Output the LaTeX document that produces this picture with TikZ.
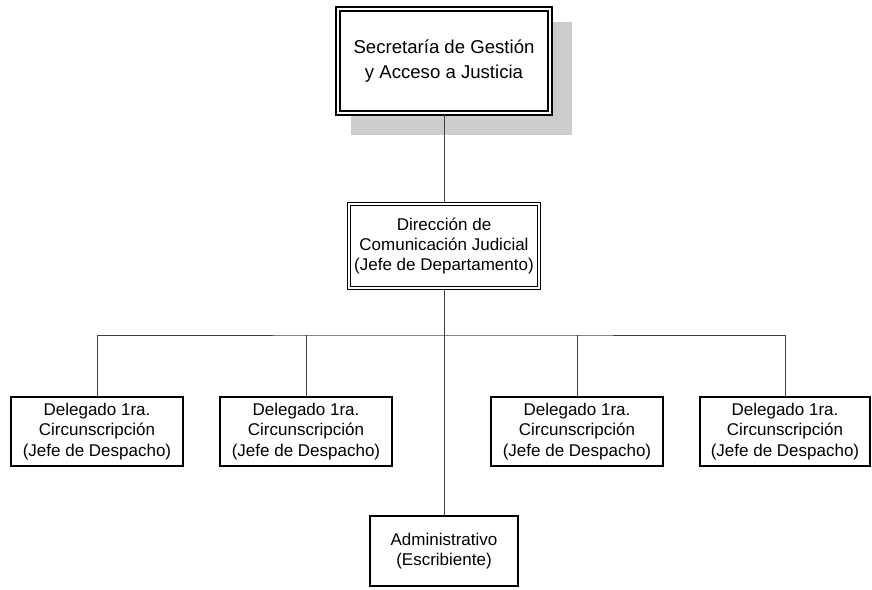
\documentclass[tikz,border=0pt]{standalone}
\usepackage{fontspec}
\setmainfont{Liberation Sans}
\usetikzlibrary{positioning,backgrounds}

\begin{document}
\begin{tikzpicture}[x=1pt, y=-1pt,
    toplevel/.style={draw=black, double=white, line width=2pt, double distance=2pt,
        fill=white, align=center, inner sep=0pt, minimum width=212pt, minimum height=104pt,
        font=\fontsize{18.6}{25.5}\selectfont},
    midlevel/.style={draw=black, double=white, line width=1.3pt, double distance=1.7pt,
        fill=white, align=center, inner sep=0pt, minimum width=190pt, minimum height=84pt,
        font=\fontsize{17}{20}\selectfont},
    delegbox/.style={draw=black, line width=1.8pt, fill=white, align=center, inner sep=0pt,
        minimum width=172pt, minimum height=69pt, font=\fontsize{17}{20.5}\selectfont},
    link/.style={draw=black!75, line width=1pt}]

    \useasboundingbox (0,0) rectangle (872,589);

    % jerarquia
    \node[toplevel] (sec) at (444,61) {Secretaría de Gestión\\y Acceso a Justicia};
    \node[midlevel] (dir) at (444,246) {Dirección de\\Comunicación Judicial\\(Jefe de Departamento)};

    \node[delegbox] (del1) at (97,431.5) {Delegado 1ra.\\Circunscripción\\(Jefe de Despacho)};
    \node[delegbox] (del2) at (306,431.5) {Delegado 1ra.\\Circunscripción\\(Jefe de Despacho)};
    \node[delegbox] (del3) at (577,431.5) {Delegado 1ra.\\Circunscripción\\(Jefe de Despacho)};
    \node[delegbox, minimum width=170pt] (del4) at (785,431.5) {Delegado 1ra.\\Circunscripción\\(Jefe de Despacho)};

    \node[delegbox, minimum width=148pt, minimum height=70pt] (adm) at (444,551) {Administrativo\\(Escribiente)};

    \coordinate (bus) at (444,335);

    % sombra
    \begin{scope}[on background layer]
        \fill[black!20] ([xshift=14pt, yshift=-14pt]sec.north west) rectangle ([xshift=21pt, yshift=-21pt]sec.south east);
    \end{scope}

    % conectores
    \draw[link] (sec.south) -- (dir.north);
    \draw[link] (dir.south) -- (adm.north);
    \draw[link] (del1.north) |- (bus) -| (del4.north);
    \draw[link] (del2.north) -- (del2.north |- bus);
    \draw[link] (del3.north) -- (del3.north |- bus);

\end{tikzpicture}
\end{document}
